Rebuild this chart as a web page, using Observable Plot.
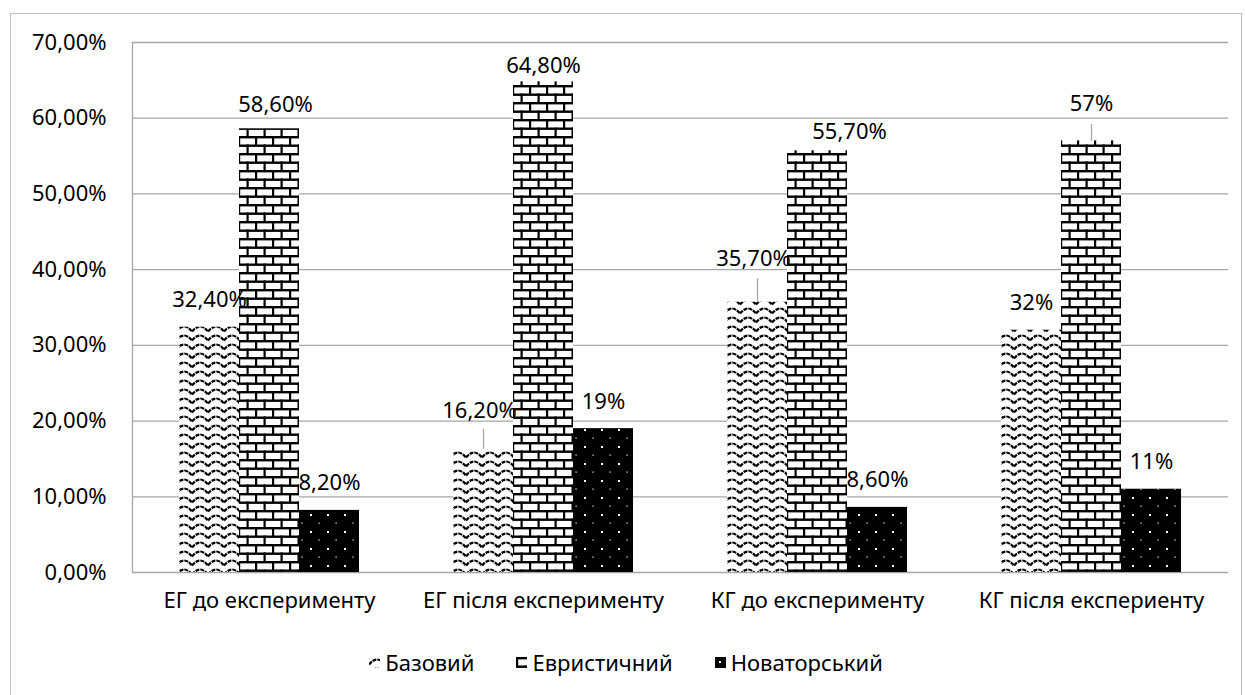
<!DOCTYPE html>
<html>
<head>
<meta charset="utf-8">
<script src="https://cdn.jsdelivr.net/npm/d3@7"></script>
<script src="https://cdn.jsdelivr.net/npm/@observablehq/plot@0.6"></script>
<style>
  html, body { margin: 0; padding: 0; background: #fff; }
  #wrap { position: relative; width: 1245px; height: 695px; overflow: hidden; font-family: "Noto Sans", sans-serif; }
  #border { position: absolute; left: 10px; top: 13px; width: 1232px; height: 690px; border: 1px solid #bfbfbf; box-sizing: border-box; }
  #chart { position: absolute; left: 0; top: 0; }
  #legend { position: absolute; left: 10px; width: 1232px; top: 647px; height: 30px; display: flex; justify-content: center; align-items: center; gap: 42px; font-size: 22px; color: #000; }
  #legend .item { display: flex; align-items: center; gap: 5px; }
  #legend svg { display: block; }
</style>
</head>
<body>
<div id="wrap">
  <div id="border"></div>
  <div id="chart"></div>
  <div id="legend"></div>
</div>
<script>
// ---- data ----
const categories = ["ЕГ до експерименту", "ЕГ після експерименту", "КГ до експерименту", "КГ після експериенту"];
const seriesNames = ["Базовий", "Евристичний", "Новаторський"];
const bazovyi = [0.324, 0.162, 0.357, 0.32];
const evrystychnyi = [0.586, 0.648, 0.557, 0.57];
const novatorskyi = [0.082, 0.19, 0.086, 0.11];
const bazovyiLabels = ["32,40%", "16,20%", "35,70%", "32%"];
const evrystychnyiLabels = ["58,60%", "64,80%", "55,70%", "57%"];
const novatorskyiLabels = ["8,20%", "19%", "8,60%", "11%"];
const yTicks = [0, 0.1, 0.2, 0.3, 0.4, 0.5, 0.6, 0.7];
const yTickLabels = ["0,00%", "10,00%", "20,00%", "30,00%", "40,00%", "50,00%", "60,00%", "70,00%"];

const seriesValues = [bazovyi, evrystychnyi, novatorskyi];
const seriesLabels = [bazovyiLabels, evrystychnyiLabels, novatorskyiLabels];
const rows = [];
seriesNames.forEach((s, si) => categories.forEach((c, ci) => {
  rows.push({category: c, series: s, value: seriesValues[si][ci], label: seriesLabels[si][ci]});
}));

// ---- layout ----
const W = 1245, H = 640, mL = 132, mR = 17, mT = 42, mB = 68;
const FS = 22;
const pxToData = 0.7 / (H - mT - mB);
// data-label placement (pixels relative to bar top / centre), leader lines
const nudges = {
  "ЕГ до експерименту|Евристичний": {dx: 6, dy: -24},
  "ЕГ після експерименту|Базовий": {dx: -4, dy: -39, leader: [-21, -1]},
  "ЕГ після експерименту|Евристичний": {dx: 0, dy: -16},
  "КГ до експерименту|Базовий": {dx: -4, dy: -43, leader: [-24, 0]},
  "КГ до експерименту|Евристичний": {dx: 32, dy: -19},
  "КГ після експериенту|Евристичний": {dx: 0, dy: -37, leader: [-17, 0]}
};
const defaultNudge = {dx: 0, dy: -27};
const patternIds = ["patWave", "patBrick", "patDots"];

const labelMarks = rows.map(r => {
  const n = nudges[r.category + "|" + r.series] || defaultNudge;
  return Plot.text([r], {fx: "category", x: "series", y: "value", text: "label", dx: n.dx, dy: n.dy, fontSize: FS, fill: "#000"});
});
const leaderRows = rows.filter(r => (nudges[r.category + "|" + r.series] || {}).leader);
const leaderMark = Plot.link(leaderRows, {
  fx: "category", x1: "series", x2: "series",
  y1: r => r.value - nudges[r.category + "|" + r.series].leader[0] * pxToData,
  y2: r => r.value - nudges[r.category + "|" + r.series].leader[1] * pxToData,
  stroke: "#a6a6a6", strokeWidth: 1.3
});

const chart = Plot.plot({
  width: W, height: H,
  marginLeft: mL, marginRight: mR, marginTop: mT, marginBottom: mB,
  style: {fontFamily: "Noto Sans, sans-serif", fontSize: FS + "px", color: "#000", background: "transparent"},
  fx: {domain: categories, padding: 0, label: null},
  x: {domain: seriesNames, paddingInner: 0, paddingOuter: 0.75, axis: null},
  y: {domain: [0, 0.7]},
  marks: [
    Plot.gridY(yTicks, {stroke: "#a6a6a6", strokeOpacity: 1, strokeWidth: 1.3}),
    Plot.axisY(yTicks, {tickSize: 0, tickPadding: 26, fontSize: FS, label: null,
      tickFormat: d => yTickLabels[yTicks.indexOf(d)]}),
    Plot.axisFx({anchor: "bottom", tickSize: 0, tickPadding: 20, fontSize: FS, label: null}),
    ...seriesNames.map((s, i) => Plot.barY(rows.filter(r => r.series === s), {
      fx: "category", x: "series", y: "value", fill: `url(#${patternIds[i]})`
    })),
    leaderMark,
    ...labelMarks
  ]
});

// pattern definitions
const svg = d3.select(chart);
const defs = svg.insert("defs", ":first-child");
const wave = defs.append("pattern").attr("id", "patWave").attr("patternUnits", "userSpaceOnUse")
  .attr("width", 16).attr("height", 9);
wave.append("rect").attr("width", 16).attr("height", 9).attr("fill", "#fff");
wave.append("path").attr("d", "M0,7.5 Q8,-2.5 16,7.5").attr("fill", "none").attr("stroke", "#000")
  .attr("stroke-width", 2.2).attr("stroke-dasharray", "4 1");
const brick = defs.append("pattern").attr("id", "patBrick").attr("patternUnits", "userSpaceOnUse")
  .attr("width", 17).attr("height", 17);
brick.append("rect").attr("width", 17).attr("height", 17).attr("fill", "#fff");
brick.append("rect").attr("x", 0).attr("y", 0).attr("width", 17).attr("height", 2.4).attr("fill", "#000");
brick.append("rect").attr("x", 0).attr("y", 8.5).attr("width", 17).attr("height", 2.4).attr("fill", "#000");
brick.append("rect").attr("x", 0).attr("y", 0).attr("width", 2.2).attr("height", 9).attr("fill", "#000");
brick.append("rect").attr("x", 8.5).attr("y", 8.5).attr("width", 2.2).attr("height", 8.5).attr("fill", "#000");
const dots = defs.append("pattern").attr("id", "patDots").attr("patternUnits", "userSpaceOnUse")
  .attr("width", 17).attr("height", 17);
dots.append("rect").attr("width", 17).attr("height", 17).attr("fill", "#000");
dots.append("rect").attr("x", 4).attr("y", 4).attr("width", 2).attr("height", 2).attr("fill", "#fff");
dots.append("rect").attr("x", 12.5).attr("y", 12.5).attr("width", 1.2).attr("height", 1.2).attr("fill", "#fff");

// left edge of plot area
svg.append("line").attr("x1", mL + 0.5).attr("x2", mL + 0.5).attr("y1", mT).attr("y2", H - mB)
  .attr("stroke", "#a6a6a6").attr("stroke-width", 1.3);

document.getElementById("chart").appendChild(chart);

// legend
const legend = d3.select("#legend");
seriesNames.forEach((s, i) => {
  const item = legend.append("div").attr("class", "item");
  const sw = item.append("svg").attr("width", 11).attr("height", 11);
  sw.append("rect").attr("width", 11).attr("height", 11).attr("fill", `url(#${patternIds[i]})`);
  item.append("span").text(s);
});
</script>
</body>
</html>
